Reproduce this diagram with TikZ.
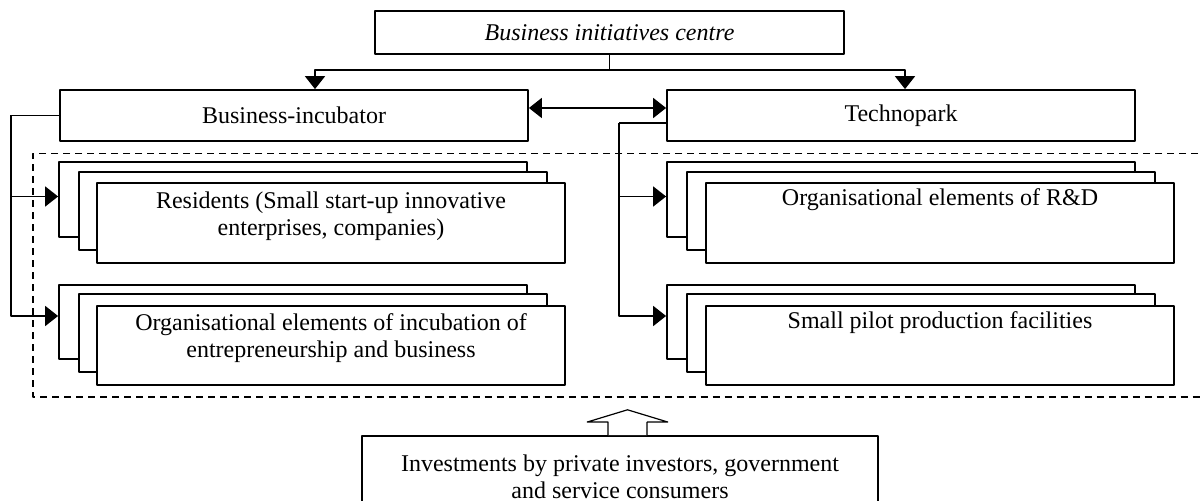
\documentclass[tikz,border=0pt]{standalone}
\usepackage{fontspec}
\setmainfont{Liberation Serif}
\usetikzlibrary{arrows.meta,positioning}

\begin{document}
\begin{tikzpicture}[>={Triangle[length=13bp,width=20bp]},line join=bevel,line width=1.8bp,
    font=\fontsize{24bp}{27bp}\selectfont,
    box/.style={draw,rectangle,fill=white,inner sep=0pt,minimum width=468bp},
    txt/.style={align=center,inner sep=0pt}]
    %%
    \useasboundingbox (0bp,0bp) rectangle (1200bp,501bp);
    \draw [dash pattern=on 7bp off 5bp,line width=1.4bp] (1210bp,347.5bp) -- (33bp,347.5bp) -- (33bp,104bp) -- (1210bp,104bp);
    \node (centre) at (609.5bp,468.5bp) [box,minimum width=469bp,minimum height=43bp] {\itshape Business initiatives centre};
    \node (incub) at (294bp,385.5bp) [box,minimum height=51bp] {Business-incubator};
    \node (tpark) at (901bp,385.5bp) [box,minimum height=51bp] {Technopark};
    \node (res1) at (293bp,301.5bp) [box,minimum height=75bp] {};
    \node (res2) at (313bp,290bp) [box,minimum height=78bp] {};
    \node (res3) at (331bp,278bp) [box,minimum height=80bp] {};
    \node (org1) at (293bp,179bp) [box,minimum height=74bp] {};
    \node (org2) at (313bp,168bp) [box,minimum height=78bp] {};
    \node (org3) at (331bp,155.5bp) [box,minimum height=79bp] {};
    \node (rd1) at (901bp,301.5bp) [box,minimum height=75bp] {};
    \node (rd2) at (921bp,290bp) [box,minimum height=78bp] {};
    \node (rd3) at (940bp,278bp) [box,minimum height=80bp] {};
    \node (pil1) at (901bp,179bp) [box,minimum height=74bp] {};
    \node (pil2) at (921bp,168bp) [box,minimum height=78bp] {};
    \node (pil3) at (940bp,155.5bp) [box,minimum height=79bp] {};
    \node (res) [txt,below=9bp of res3.north] {Residents (Small start-up innovative\\enterprises, companies)};
    \node (org) [txt,below=8bp of org3.north] {Organisational elements of incubation of\\entrepreneurship and business};
    \node (rd) [txt,below=6bp of rd3.north] {Organisational elements of R\&D};
    \node (pil) [txt,below=6bp of pil3.north] {Small pilot production facilities};
    \node (invest) at (620bp,24.5bp) [box,align=center,minimum width=516bp,minimum height=81bp] {Investments by private investors, government\\and service consumers};
    \draw (centre.south) -- ++(0,-15bp) coordinate (split);
    \draw [->] (split) -| ([xshift=21bp]incub.north);
    \draw [->] (split) -| ([xshift=4bp]tpark.north);
    \draw [<->] ([yshift=7.5bp]incub.east) -- ([yshift=7.5bp]tpark.west);
    \draw (incub.west) -- ++(-48bp,0) coordinate (lbus);
    \draw [->] (lbus) |- ([yshift=3bp]res1.west);
    \draw [->] (lbus) |- ([yshift=6bp]org1.west);
    \draw ([yshift=-7.5bp]tpark.west) -- ++(-47bp,0) coordinate (rbus);
    \draw [->] (rbus) |- ([yshift=3bp]rd1.west);
    \draw [->] (rbus) |- ([yshift=6bp]pil1.west);
    \coordinate (up) at ([xshift=7.5bp]invest.north);
    \draw [line width=1.2bp,fill=white] ([xshift=-19.5bp]up) -- ++(0,13bp) -- ++(-21bp,0) -- ++(40.5bp,12.3bp) -- ++(40.5bp,-12.3bp) -- ++(-21bp,0) -- ++(0,-13bp);
    %
\end{tikzpicture}
\end{document}
